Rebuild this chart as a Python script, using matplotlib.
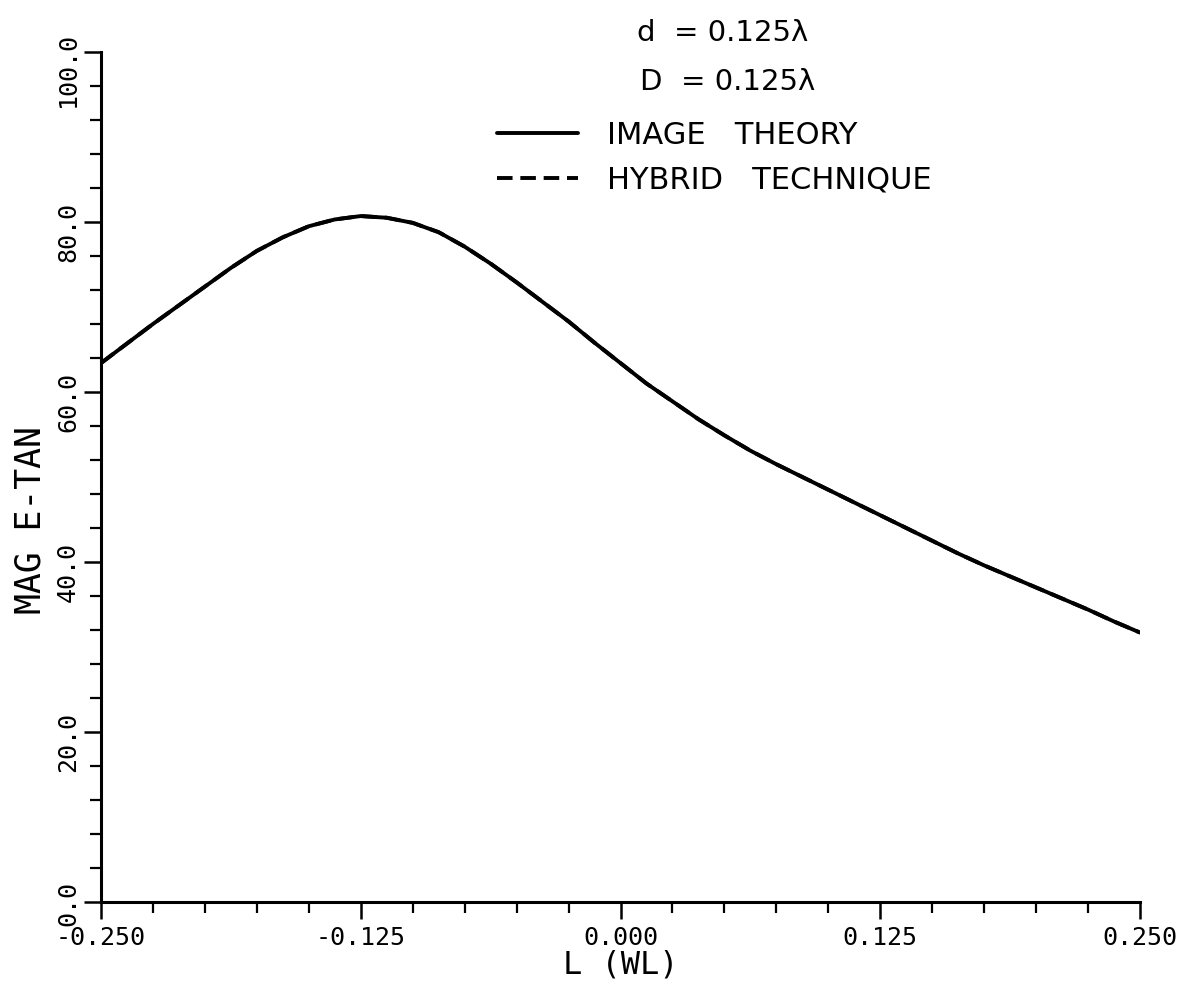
import numpy as np
import matplotlib
matplotlib.use("Agg")
import matplotlib.pyplot as plt
import matplotlib.transforms as mtransforms
from matplotlib.ticker import MultipleLocator, FixedLocator, FixedFormatter

# values
L_wl = [-0.25, -0.2375, -0.225, -0.2125, -0.2, -0.1875, -0.175, -0.1625, -0.15,
        -0.1375, -0.125, -0.1125, -0.1, -0.0875, -0.075, -0.0625, -0.05, -0.0375,
        -0.025, -0.0125, 0.0, 0.0125, 0.025, 0.0375, 0.05, 0.0625, 0.075, 0.0875,
        0.1, 0.1125, 0.125, 0.1375, 0.15, 0.1625, 0.175, 0.1875, 0.2, 0.2125,
        0.225, 0.2375, 0.25]
image_theory = [63.4, 65.7, 68.0, 70.2, 72.4, 74.6, 76.6, 78.2, 79.5,
                80.3, 80.7, 80.5, 79.9, 78.8, 77.1, 75.1, 72.9, 70.6,
                68.3, 65.8, 63.4, 61.0, 58.9, 56.8, 54.9, 53.1, 51.5, 50.0,
                48.5, 47.0, 45.5, 44.0, 42.5, 41.0, 39.6, 38.3, 37.0, 35.7,
                34.4, 33.0, 31.7]
# hybrid result lies on top of the image theory curve
hybrid = list(image_theory)

x_ticks = [-0.25, -0.125, 0.0, 0.125, 0.25]
x_labels = ["-0.250", "-0.125", "0.000", "0.125", "0.250"]
y_ticks = [0, 20, 40, 60, 80, 100]
y_labels = ["0.0", "20.0", "40.0", "60.0", "80.0", "100.0"]

mono = "DejaVu Sans Mono"

fig = plt.figure(figsize=(12.03, 9.92), dpi=100)
ax = fig.add_axes([101 / 1203, 90 / 992, 1039 / 1203, 850 / 992])

ax.plot(L_wl, image_theory, color="black", lw=2.8, solid_capstyle="round",
        label="IMAGE   THEORY")
ax.plot(L_wl, hybrid, color="black", lw=2.8, dashes=(4, 2),
        label="HYBRID   TECHNIQUE")

ax.set_xlim(-0.25, 0.25)
ax.set_ylim(0, 100)

for s in ["top", "right"]:
    ax.spines[s].set_visible(False)
for s in ["left", "bottom"]:
    ax.spines[s].set_linewidth(2.2)

ax.xaxis.set_major_locator(FixedLocator(x_ticks))
ax.xaxis.set_major_formatter(FixedFormatter(x_labels))
ax.xaxis.set_minor_locator(MultipleLocator(0.025))
ax.yaxis.set_major_locator(FixedLocator(y_ticks))
ax.yaxis.set_major_formatter(FixedFormatter(y_labels))
ax.yaxis.set_minor_locator(MultipleLocator(4))

ax.tick_params(which="major", direction="out", length=12, width=1.8)
ax.tick_params(which="minor", direction="out", length=8, width=1.6)
ax.tick_params(axis="x", which="major", pad=5)
ax.tick_params(axis="y", which="major", pad=3)

for lbl in ax.get_xticklabels():
    lbl.set_fontfamily(mono)
    lbl.set_fontsize(18)
for lbl in ax.get_yticklabels():
    txt = lbl.get_text()
    lbl.set_fontfamily(mono)
    lbl.set_fontsize(18)
    lbl.set_rotation(90)
    lbl.set_va("center")
    lbl.set_ha("right")
    # plotter puts the decimal point on the tick
    shift_px = 2 + (txt.index(".") + 0.5 - len(txt) / 2) * 15
    lbl.set_transform(lbl.get_transform() +
                      mtransforms.ScaledTranslation(0, -shift_px / 100, fig.dpi_scale_trans))

ax.set_xlabel("L (WL)", fontfamily=mono, fontsize=23, va="center")
ax.xaxis.set_label_coords(0.5, -0.074)
ax.set_ylabel("MAG E-TAN", fontfamily=mono, fontsize=25, va="center")
ax.yaxis.set_label_coords(-0.068, 0.449)

fig.text(637 / 1203, 1 - 33 / 992, "d  = 0.125λ", fontsize=21, va="center", ha="left")
fig.text(640 / 1203, 1 - 82 / 992, "D  = 0.125λ", fontsize=21, va="center", ha="left")

ax.legend(loc="upper left", bbox_to_anchor=(497 / 1203, 1 - 121 / 992),
          bbox_transform=fig.transFigure, frameon=False, fontsize=22,
          handlelength=2.65, handletextpad=0.95, labelspacing=0.5,
          borderpad=0, borderaxespad=0)

fig.savefig("out.png", dpi=100)
